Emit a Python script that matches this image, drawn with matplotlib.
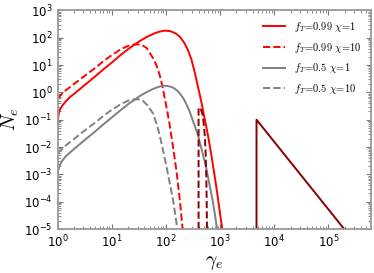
import matplotlib
matplotlib.use('Agg')
import matplotlib.pyplot as plt

plt.rcParams['mathtext.fontset'] = 'cm'

# f_T = 0.99, chi = 1
gamma_r1 = [1.0, 1.005, 1.015, 1.03, 1.06, 1.1, 1.2, 1.4, 1.7, 2.08, 3.0, 4.5, 7.4, 10, 14, 20, 26,
            33, 45, 58, 75, 95, 120, 150, 179, 215, 254, 295, 338, 390, 449, 520, 594, 690, 789,
            900, 1000, 1050, 1100]
n_r1 = [0.02, 0.05, 0.09, 0.13, 0.18, 0.23, 0.31, 0.46, 0.68, 0.93, 1.7, 3.3, 7.6, 12.3, 21.9, 38,
        55, 76, 108, 138, 166, 182, 174, 145, 110, 68, 36, 16, 5.7, 1.6, 0.46, 0.105, 0.028, 5e-3,
        9.3e-4, 1.6e-4, 3.5e-5, 1.8e-5, 9e-6]

# f_T = 0.99, chi = 10
gamma_r10 = [1.0, 1.3, 1.9, 2.6, 3.66, 5.2, 7.4, 10, 15, 20, 25, 30, 36, 44, 57.7, 68, 76.6, 86,
             95, 106, 117, 130, 145, 160, 179, 190, 200, 205]
n_r10 = [0.6, 1.05, 1.85, 3.0, 5.0, 8.5, 15, 23, 39, 50, 56, 57, 54, 42, 18, 9, 4.3, 1.7,
         0.61, 0.2, 0.065, 0.017, 3.9e-3, 9e-4, 1.3e-4, 4e-5, 1.4e-5, 8e-6]

# f_T = 0.5, chi = 1
gamma_g1 = [1.0, 1.005, 1.015, 1.03, 1.06, 1.1, 1.2, 1.4, 2.08, 3.0, 4.5, 7.4, 10, 14, 20, 26, 33,
            45, 58, 75, 88, 110, 135, 160, 179, 210, 240, 273, 320, 389, 460, 555, 640, 735, 800,
            880]
n_g1 = [4e-4, 8e-4, 1.1e-3, 1.4e-3, 1.8e-3, 2.2e-3, 3e-3, 4.5e-3, 9e-3, 0.0165, 0.032, 0.074,
        0.12, 0.21, 0.37, 0.53, 0.74, 1.05, 1.34, 1.62, 1.76, 1.71, 1.5, 1.18, 0.93, 0.6, 0.36,
        0.2, 0.083, 0.028, 7.6e-3, 1.7e-3, 4e-4, 1e-4, 3.5e-5, 1e-5]

# f_T = 0.5, chi = 10
gamma_g10 = [1.0, 1.3, 1.9, 2.6, 3.66, 5.2, 7.4, 10, 15, 20, 26.5, 32, 38, 46, 57.7, 68, 76.6, 88,
             101, 117, 134, 150, 162]
n_g10 = [5.9e-3, 0.01, 0.018, 0.03, 0.05, 0.085, 0.15, 0.23, 0.38, 0.5, 0.56, 0.55, 0.48, 0.33,
         0.17, 0.065, 0.027, 8e-3, 2.2e-3, 5e-4, 1.3e-4, 3e-5, 1e-5]

# high-energy components
gamma_hi = [4700, 4700, 1.95e5]
n_hi = [1e-5, 0.1, 1e-5]
gamma_bump = [400, 400, 410, 440, 468, 495, 520, 540, 555, 565, 572]
n_bump = [1e-5, 0.27, 0.28, 0.24, 0.17, 0.08, 0.028, 6e-3, 9e-4, 1e-4, 1e-5]

labels = [r'$f_T\!=\!0.99\ \chi\!=\!1$', r'$f_T\!=\!0.99\ \chi\!=\!10$',
          r'$f_T\!=\!0.5\ \chi\!=\!1$', r'$f_T\!=\!0.5\ \chi\!=\!10$']

fig = plt.figure(figsize=(3.74, 2.73), dpi=100)
ax = fig.add_axes([0.154, 0.161, 0.837, 0.801])

ax.plot(gamma_r1, n_r1, color='red', lw=1.4, label=labels[0])
ax.plot(gamma_r10, n_r10, color='red', lw=1.4, ls='--', label=labels[1])
ax.plot(gamma_g1, n_g1, color='gray', lw=1.4, label=labels[2])
ax.plot(gamma_g10, n_g10, color='gray', lw=1.4, ls='--', label=labels[3])
ax.plot(gamma_hi, n_hi, color='#8b0000', lw=1.4)
ax.plot(gamma_bump, n_bump, color='#8b0000', lw=1.4, ls='--')

ax.set_xscale('log')
ax.set_yscale('log')
ax.set_xlim(1, 6e5)
ax.set_ylim(1e-5, 1e3)

ax.set_xlabel(r'$\gamma_e$', fontsize=14, labelpad=2)
ax.set_ylabel(r'$N_e$', fontsize=14, labelpad=2)

for s in ax.spines.values():
    s.set_color('#999999')
    s.set_linewidth(1.3)
ax.tick_params(which='both', direction='in', top=True, right=True, color='#777777', labelsize=8.5)
ax.tick_params(which='major', length=3.5)
ax.tick_params(which='minor', length=2)

ax.legend(loc='upper right', frameon=False, fontsize=7.5, handlelength=2.2, labelspacing=0.65,
          borderaxespad=0.5)

fig.savefig('out.png', dpi=100)
